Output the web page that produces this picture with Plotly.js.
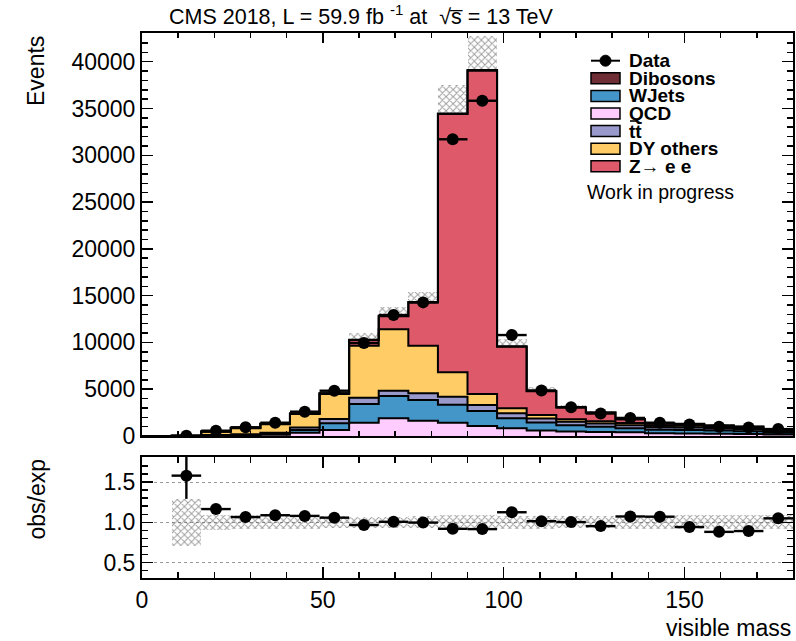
<!DOCTYPE html>
<html>
<head>
<meta charset="utf-8">
<script src="https://cdn.plot.ly/plotly-3.0.1.min.js"></script>
<style>html,body{margin:0;padding:0;background:#fff;}#chart{width:796px;height:641px;}</style>
</head>
<body>
<div id="chart"></div>
<script>
// ---- data ----
const binEdges = [0, 8.18, 16.36, 24.55, 32.73, 40.91, 49.09, 57.27, 65.45, 73.64, 81.82, 90,
                  98.18, 106.36, 114.55, 122.73, 130.91, 139.09, 147.27, 155.45, 163.64, 171.82, 180];
const binCenters = [4.09, 12.27, 20.45, 28.64, 36.82, 45, 53.18, 61.36, 69.55, 77.73, 85.91, 94.09,
                    102.27, 110.45, 118.64, 126.82, 135, 143.18, 151.36, 159.55, 167.73, 175.91];
const dataCounts = [null, 30, 566, 930, 1420, 2600, 4840, 9940, 12930, 14280, 31710, 35830,
                    10790, 4870, 3080, 2400, 1930, 1420, 1230, 1000, 900, 740];
const qcd    = [0, 3, 40, 80, 130, 350, 640, 1420, 1890, 1635, 1420, 1070, 820, 600, 480, 420, 400, 300, 280, 250, 220, 150];
const wjets  = [0, 2, 35, 65, 120, 300, 720, 2000, 2385, 2210, 1925, 1600, 1070, 850, 680, 580, 430, 380, 370, 330, 300, 210];
const ttbar  = [0, 1, 25, 45, 90, 250, 460, 670, 566, 715, 855, 640, 540, 420, 360, 330, 325, 260, 260, 230, 210, 150];
const dyOthers = [0, 11, 365, 650, 920, 1450, 2680, 5560, 6560, 5090, 2610, 1180, 530, 380, 280, 250, 235, 160, 180, 140, 120, 80];
const zee    = [0, 2, 19, 30, 40, 50, 60, 600, 1400, 4630, 27600, 34550, 6590, 2525, 1250, 920, 394, 215, 205, 174, 150, 108];
const dibosons = [0, 0, 2, 3, 5, 8, 15, 30, 40, 45, 70, 80, 40, 25, 20, 18, 15, 12, 11, 10, 9, 7];
const relUnc = [0, 0.29, 0.09, 0.085, 0.085, 0.08, 0.075, 0.07, 0.07, 0.075, 0.087, 0.093,
                0.08, 0.08, 0.075, 0.075, 0.08, 0.08, 0.085, 0.085, 0.085, 0.085];

const procNames  = ['QCD', 'WJets', 'tt', 'DY others', 'Z→ e e', 'Dibosons'];
const procColors = ['#ffccff', '#4496c8', '#9999cc', '#ffcc66', '#de5a6a', '#6f2d35'];
const procValues = [qcd, wjets, ttbar, dyOthers, zee, dibosons];

// ---- derived ----
const nb = binCenters.length;
const binWidth = binEdges[1] - binEdges[0];
const total = binCenters.map((_, i) => procValues.reduce((s, a) => s + a[i], 0));

const hatch = {shape: 'x', fgcolor: '#3a3a3a', bgcolor: 'rgba(0,0,0,0)', size: 5, solidity: 0.35, fillmode: 'overlay'};

const traces = [];
let cum = new Array(nb).fill(0);
procValues.forEach((vals, k) => {
  cum = cum.map((c, i) => c + vals[i]);
  const ys = cum.slice(); ys.push(cum[nb - 1]);
  traces.push({
    type: 'scatter', mode: 'lines', x: binEdges, y: ys, name: procNames[k],
    line: {shape: 'hv', color: '#000', width: 2},
    fill: k === 0 ? 'tozeroy' : 'tonexty', fillcolor: procColors[k],
    xaxis: 'x', yaxis: 'y', showlegend: false, hoverinfo: 'skip'
  });
});

// MC uncertainty band (top)
traces.push({
  type: 'bar', x: binCenters, base: total.map((t, i) => t * (1 - relUnc[i])),
  y: total.map((t, i) => 2 * t * relUnc[i]), width: binWidth,
  marker: {color: 'rgba(0,0,0,0)', line: {width: 0}, pattern: hatch},
  xaxis: 'x', yaxis: 'y', showlegend: false, hoverinfo: 'skip'
});

// data (top)
traces.push({
  type: 'scatter', mode: 'markers', x: binCenters, y: dataCounts, name: 'Data',
  marker: {color: '#000', size: 12},
  error_x: {type: 'constant', value: binWidth / 2, thickness: 2.4, width: 0, color: '#000'},
  error_y: {type: 'data', array: dataCounts.map(d => d == null ? null : Math.sqrt(d)), thickness: 2.4, width: 0, color: '#000'},
  xaxis: 'x', yaxis: 'y', showlegend: false, hoverinfo: 'skip'
});

// ratio band
traces.push({
  type: 'bar', x: binCenters, base: relUnc.map((r, i) => total[i] > 0 ? 1 - r : null),
  y: relUnc.map((r, i) => total[i] > 0 ? 2 * r : null), width: binWidth,
  marker: {color: 'rgba(0,0,0,0)', line: {width: 0}, pattern: hatch},
  xaxis: 'x2', yaxis: 'y2', showlegend: false, hoverinfo: 'skip'
});

// ratio points
const ratio = dataCounts.map((d, i) => (d == null || total[i] === 0) ? null : d / total[i]);
const ratioErr = dataCounts.map((d, i) => (d == null || total[i] === 0) ? null : Math.sqrt(d) / total[i]);
traces.push({
  type: 'scatter', mode: 'markers', x: binCenters, y: ratio,
  marker: {color: '#000', size: 12},
  error_x: {type: 'constant', value: binWidth / 2, thickness: 2.4, width: 0, color: '#000'},
  error_y: {type: 'data', array: ratioErr, thickness: 2.4, width: 0, color: '#000'},
  xaxis: 'x2', yaxis: 'y2', showlegend: false, hoverinfo: 'skip'
});

// ---- layout helpers (pixel -> paper) ----
const L = 142, R = 793, T = 33, B = 578;
const px = x => (x - L) / (R - L);
const py = y => (B - y) / (B - T);
const FONT = 'Liberation Sans, Arial, Helvetica, sans-serif';

const shapes = [];
const annotations = [];
// legend
const legRows = [
  {label: 'Data', y: 60.7, data: true},
  {label: 'Dibosons', y: 78.3, color: '#6f2d35'},
  {label: 'WJets', y: 95.9, color: '#4496c8'},
  {label: 'QCD', y: 113.5, color: '#ffccff'},
  {label: 'tt', y: 131.1, color: '#9999cc'},
  {label: 'DY others', y: 148.7, color: '#ffcc66'},
  {label: 'Z→ e e', y: 166.3, color: '#de5a6a'}
];
legRows.forEach(r => {
  if (r.data) {
    shapes.push({type: 'line', xref: 'paper', yref: 'paper', x0: px(591), x1: px(620), y0: py(r.y), y1: py(r.y), line: {color: '#000', width: 2}});
    shapes.push({type: 'circle', xref: 'paper', yref: 'paper', x0: px(600), x1: px(611), y0: py(r.y + 5.5), y1: py(r.y - 5.5), fillcolor: '#000', line: {color: '#000', width: 1}});
  } else {
    shapes.push({type: 'rect', xref: 'paper', yref: 'paper', x0: px(591), x1: px(620), y0: py(r.y + 5.5), y1: py(r.y - 5.5), fillcolor: r.color, line: {color: '#000', width: 1.5}});
  }
  annotations.push({xref: 'paper', yref: 'paper', x: px(627), y: py(r.y), xanchor: 'left', yanchor: 'middle',
    text: '<b>' + r.label + '</b>', showarrow: false, font: {family: FONT, size: 19, color: '#000'}});
});
// bar over the t in "tt"
shapes.push({type: 'line', xref: 'paper', yref: 'paper', x0: px(630), x1: px(636), y0: py(121), y1: py(121), line: {color: '#000', width: 1.6}});
annotations.push({xref: 'paper', yref: 'paper', x: px(585), y: py(191.5), xanchor: 'left', yanchor: 'middle',
  text: 'Work in progress', showarrow: false, font: {family: FONT, size: 19.5, color: '#000'}});
// axis titles
annotations.push({xref: 'paper', yref: 'paper', x: px(36), y: py(34), xanchor: 'center', yanchor: 'top', textangle: -90,
  text: 'Events', showarrow: false, font: {family: FONT, size: 23, color: '#000'}});
annotations.push({xref: 'paper', yref: 'paper', x: px(36), y: py(457), xanchor: 'center', yanchor: 'top', textangle: -90,
  text: 'obs/exp', showarrow: false, font: {family: FONT, size: 23, color: '#000'}});
annotations.push({xref: 'paper', yref: 'paper', x: 1, y: py(628), xanchor: 'right', yanchor: 'middle',
  text: 'visible mass', showarrow: false, font: {family: FONT, size: 23, color: '#000'}});
// title
annotations.push({xref: 'paper', yref: 'paper', x: px(167), y: py(15), xanchor: 'left', yanchor: 'middle',
  text: 'CMS 2018, L = 59.9 fb <sup>-1</sup> at  √s̅ = 13 TeV', showarrow: false, font: {family: FONT, size: 21.5, color: '#000'}});

const axisCommon = {showline: true, linecolor: '#000', linewidth: 2, mirror: 'ticks', ticks: 'inside',
  tickcolor: '#000', tickwidth: 1.5, showgrid: false, zeroline: false,
  tickfont: {family: FONT, size: 23, color: '#000'}};

const layout = {
  width: 796, height: 641,
  margin: {l: L, r: 796 - R, t: T, b: 641 - B},
  paper_bgcolor: '#fff', plot_bgcolor: '#fff',
  showlegend: false, barmode: 'overlay', bargap: 0,
  font: {family: FONT, color: '#000'},
  xaxis: Object.assign({}, axisCommon, {domain: [0, 1], anchor: 'y', range: [0, 180], showticklabels: false,
    tick0: 0, dtick: 50, ticklen: 10, minor: {ticks: 'inside', dtick: 10, ticklen: 5, tickcolor: '#000', tickwidth: 1.5}}),
  yaxis: Object.assign({}, axisCommon, {domain: [py(436), 1], anchor: 'x', range: [0, 43070],
    tick0: 0, dtick: 5000, ticklen: 11, tickformat: 'd', minor: {ticks: 'inside', dtick: 1000, ticklen: 6, tickcolor: '#000', tickwidth: 1.5}}),
  xaxis2: Object.assign({}, axisCommon, {domain: [0, 1], anchor: 'y2', range: [0, 180], matches: 'x',
    tick0: 0, dtick: 50, ticklen: 11, minor: {ticks: 'inside', dtick: 10, ticklen: 6, tickcolor: '#000', tickwidth: 1.5}}),
  yaxis2: Object.assign({}, axisCommon, {domain: [0, py(457)], anchor: 'x2', range: [0.31, 1.81],
    tick0: 0, dtick: 0.5, ticklen: 11, tickformat: '.1f', showgrid: true, gridcolor: '#999', gridwidth: 1, griddash: 'dot',
    minor: {ticks: 'inside', dtick: 0.1, ticklen: 6, tickcolor: '#000', tickwidth: 1.5}}),
  shapes: shapes, annotations: annotations
};

Plotly.newPlot('chart', traces, layout, {staticPlot: true, displayModeBar: false});
</script>
</body>
</html>
